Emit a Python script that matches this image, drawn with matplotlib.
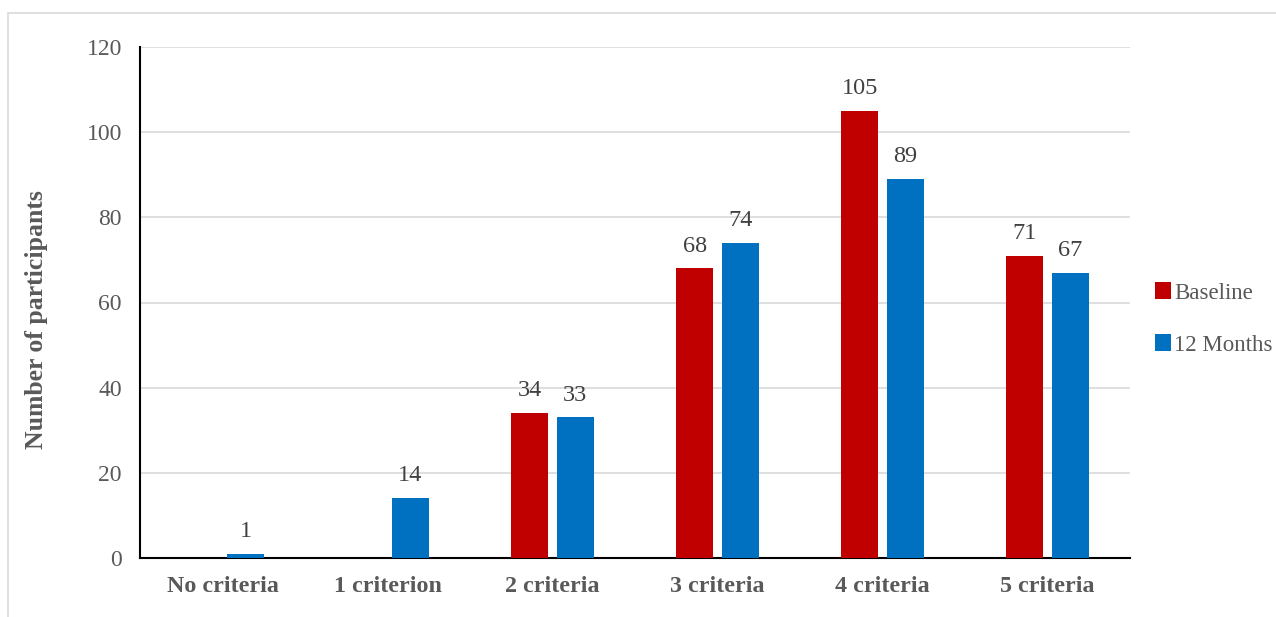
import matplotlib
matplotlib.use("Agg")
import matplotlib.pyplot as plt
import numpy as np
from matplotlib.patches import Rectangle

categories = ["No criteria", "1 criterion", "2 criteria", "3 criteria", "4 criteria", "5 criteria"]
baseline = [0, 0, 34, 68, 105, 71]
months12 = [1, 14, 33, 74, 89, 67]
series_names = ["Baseline", "12 Months"]
yticks = [0, 20, 40, 60, 80, 100, 120]

plt.rcParams['font.family'] = ['Liberation Serif', 'DejaVu Serif']
red = "#C00000"
blue = "#0070C0"
gray_txt = "#595959"

fig = plt.figure(figsize=(12.76, 6.17), dpi=100)
fig.patches.append(Rectangle((8/1276, -0.1), 1.2, (617-13)/617 + 0.1, transform=fig.transFigure,
                             fill=False, edgecolor="#D9D9D9", linewidth=1.2))
ax = fig.add_axes([140/1276, 59/617, 990/1276, 511/617])

x = np.arange(len(categories))
w = 0.224
off = 0.139
b1 = ax.bar(x - off, baseline, w, color=red, label=series_names[0], zorder=3)
b2 = ax.bar(x + off, months12, w, color=blue, label=series_names[1], zorder=3)

for rects, vals in ((b1, baseline), (b2, months12)):
    for r, v in zip(rects, vals):
        if v > 0:
            ax.text(r.get_x() + r.get_width()/2, v + 2.8, str(v), ha="center", va="bottom",
                    fontsize=17.5, color="#404040")

ax.set_xlim(-0.5, len(categories) - 0.5)
ax.set_ylim(0, 120)
ax.set_yticks(yticks)
ax.set_yticklabels([str(t) for t in yticks], fontsize=17, color=gray_txt)
ax.set_xticks(x)
ax.set_xticklabels(categories, fontsize=17.3, fontweight="bold", color=gray_txt)
ax.tick_params(axis="both", length=0)
ax.tick_params(axis="y", pad=13)
ax.tick_params(axis="x", pad=13)
ax.grid(axis="y", color="#D9D9D9", linewidth=1.2, zorder=0)
for s in ["top", "right"]:
    ax.spines[s].set_visible(False)
ax.spines["left"].set_color("black")
ax.spines["left"].set_linewidth(1.5)
ax.spines["bottom"].set_color("black")
ax.spines["bottom"].set_linewidth(1.5)
ax.set_ylabel("Number of participants", fontsize=18.5, fontweight="bold", color=gray_txt)
ax.yaxis.set_label_coords(-0.093, 0.466)

fig.legend(handles=[b1, b2], labels=series_names, loc="center left",
           bbox_to_anchor=(1155/1276, 1 - 319/617), frameon=False, fontsize=16.5,
           borderpad=0, borderaxespad=0,
           handlelength=0.7, handleheight=0.7, handletextpad=0.15, labelspacing=1.35,
           labelcolor=gray_txt)

fig.savefig("out.png", dpi=100)
